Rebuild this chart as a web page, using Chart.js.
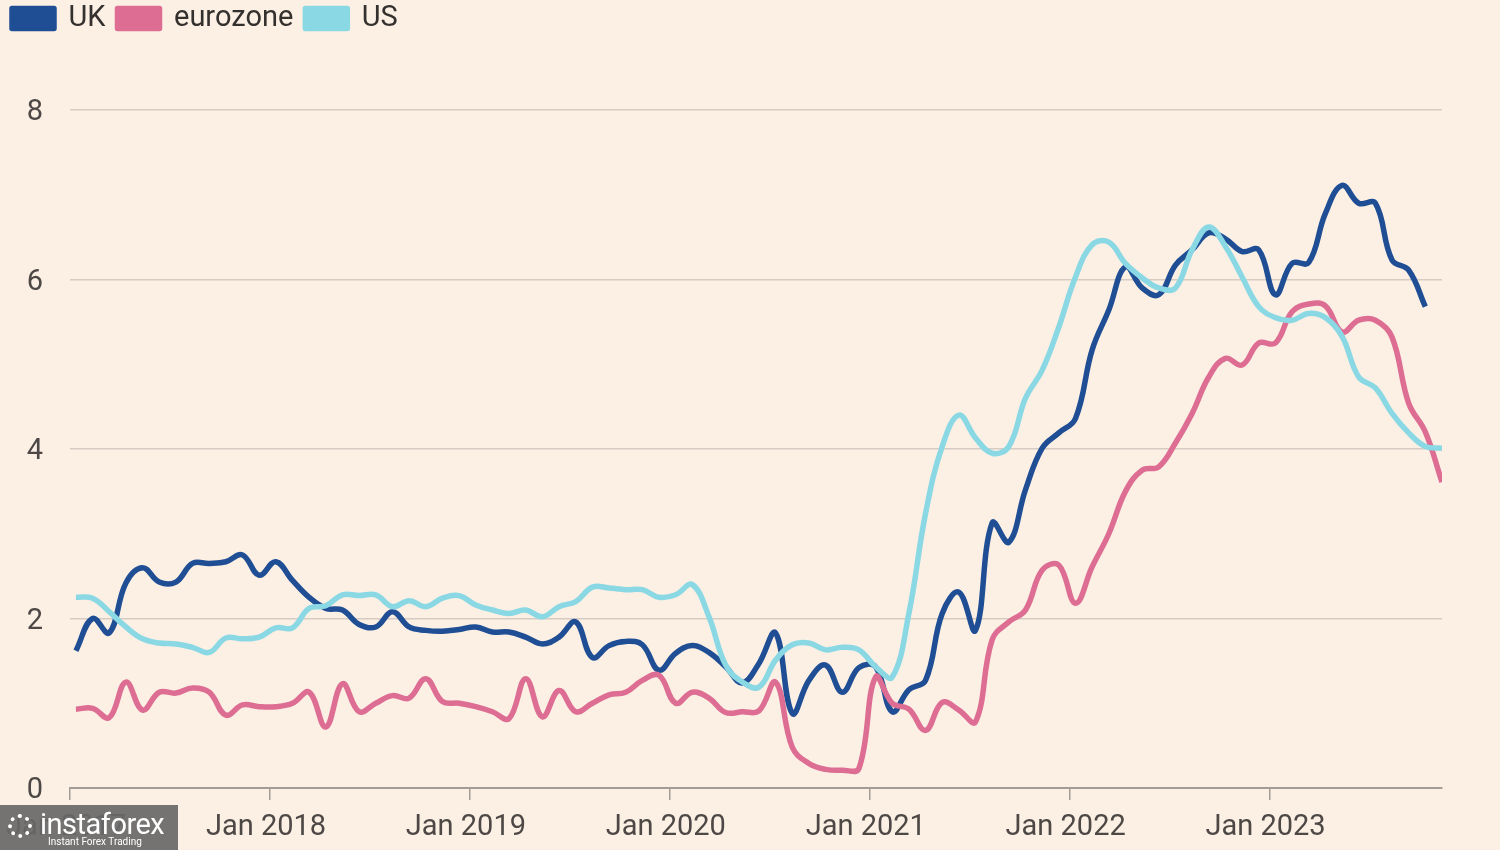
<!DOCTYPE html>
<html>
<head>
<meta charset="utf-8">
<script src="https://cdn.jsdelivr.net/npm/chart.js@4.4.0/dist/chart.umd.min.js"></script>
<style>
  html, body { margin: 0; padding: 0; background: #fcf0e5; }
  #wrap { position: relative; width: 1500px; height: 850px; }
  #c { display: block; }
  #wm { position: absolute; left: 0; top: 805px; width: 178px; height: 45px; background: rgba(104,104,104,0.92);
        color: #fff; font-family: Roboto, sans-serif; }
  #wm .big { position: absolute; left: 40px; top: 2px; font-size: 29px; letter-spacing: -0.5px; }
  #wm .small { position: absolute; left: 48px; top: 31px; font-size: 10px; }
  #wm .ico { position: absolute; left: 8px; top: 9px; width: 24px; height: 24px; border-radius: 50%; border: 4px dotted #fff; box-sizing: border-box; }
</style>
</head>
<body>
<div id="wrap">
<canvas id="c" width="1500" height="850"></canvas>
<div id="wm"><div class="ico"></div><div class="big">instaforex</div><div class="small">Instant Forex Trading</div></div>
</div>
<script>
// Monthly values, Jan 2017 onward
const seriesNames = ['UK', 'eurozone', 'US'];
const ukValues = [1.62,2.0,1.83,2.42,2.6,2.43,2.43,2.65,2.65,2.67,
  2.75,2.51,2.67,2.45,2.25,2.12,2.1,1.93,1.9,2.08,
  1.9,1.86,1.85,1.87,1.9,1.84,1.84,1.78,1.70,1.78,
  1.96,1.54,1.68,1.73,1.69,1.39,1.59,1.68,1.6,1.43,
  1.24,1.47,1.83,0.88,1.27,1.45,1.13,1.42,1.43,0.9,
  1.16,1.27,2.06,2.31,1.86,3.13,2.9,3.52,4.01,4.19,
  4.36,5.17,5.64,6.15,5.9,5.82,6.17,6.35,6.55,6.48,
  6.33,6.35,5.82,6.19,6.2,6.78,7.11,6.9,6.9,6.23,
  6.11,5.68];
const euroValues = [0.93,0.94,0.83,1.25,0.92,1.13,1.12,1.18,1.13,0.86,
  0.98,0.96,0.96,1.0,1.13,0.72,1.23,0.9,1.0,1.09,
  1.06,1.29,1.02,1.0,0.96,0.9,0.82,1.29,0.84,1.15,
  0.9,1.0,1.1,1.13,1.27,1.33,1.0,1.13,1.06,0.89,
  0.9,0.91,1.25,0.48,0.29,0.22,0.21,0.23,1.31,1.0,
  0.93,0.68,1.01,0.92,0.78,1.75,1.96,2.1,2.57,2.63,
  2.18,2.61,3.0,3.5,3.75,3.79,4.07,4.42,4.85,5.07,
  4.99,5.25,5.25,5.62,5.71,5.69,5.38,5.52,5.52,5.32,
  4.54,4.2,3.61];
const usValues = [2.25,2.24,2.08,1.9,1.76,1.71,1.7,1.66,1.6,1.77,
  1.76,1.78,1.89,1.89,2.12,2.15,2.28,2.27,2.28,2.14,
  2.21,2.14,2.24,2.27,2.16,2.1,2.06,2.1,2.02,2.14,
  2.2,2.37,2.36,2.34,2.34,2.25,2.28,2.4,2.02,1.45,
  1.25,1.19,1.51,1.69,1.71,1.63,1.66,1.63,1.43,1.31,
  2.06,3.24,4.03,4.4,4.13,3.95,4.03,4.6,4.93,5.44,
  6.03,6.41,6.44,6.19,6.02,5.9,5.9,6.35,6.62,6.39,
  6.03,5.68,5.55,5.52,5.6,5.55,5.33,4.85,4.72,4.42,
  4.19,4.03,4.01];
const xTickLabels = ['Jan 2017','Jan 2018','Jan 2019','Jan 2020','Jan 2021','Jan 2022','Jan 2023'];
const yTicks = [0, 2, 4, 6, 8];

const colors = { UK: '#1f4e94', eurozone: '#dd6d92', US: '#89d8e4' };
const monthOffset = 0.35;
const toPoints = vals => vals.map((v, i) => ({ x: i + monthOffset, y: v }));

const legendHeightPlugin = {
  id: 'legendHeight',
  beforeInit(chart) {
    const origFit = chart.legend.fit;
    chart.legend.fit = function () {
      origFit.bind(chart.legend)();
      this.height = 118;
    };
  }
};

const mk = (name, vals, order) => ({
  label: name, data: toPoints(vals), borderColor: colors[name], backgroundColor: colors[name],
  borderWidth: 5.5, pointRadius: 0, tension: 0.4, fill: false, order: order,
  borderCapStyle: 'butt', borderJoinStyle: 'round'
});

const font = { family: 'Roboto, sans-serif', size: 29 };

new Chart(document.getElementById('c'), {
  type: 'line',
  data: {
    datasets: [mk('UK', ukValues, 2), mk('eurozone', euroValues, 1), mk('US', usValues, 0)]
  },
  plugins: [legendHeightPlugin],
  options: {
    responsive: false, animation: false, devicePixelRatio: 1,
    layout: { padding: { left: 0, right: 58, top: -8, bottom: 0 } },
    plugins: {
      tooltip: { enabled: false },
      legend: {
        display: true, position: 'top', align: 'start',
        labels: {
          boxWidth: 42, boxHeight: 20, padding: 12, color: '#33302e', font: font,
          sort: (a, b) => a.datasetIndex - b.datasetIndex
        }
      }
    },
    scales: {
      x: {
        type: 'linear', min: 0, max: 82.35,
        afterBuildTicks: s => { s.ticks = xTickLabels.map((l, i) => ({ value: i * 12 })); },
        afterFit: s => { s.height = 62; },
        ticks: {
          callback: (v) => xTickLabels[Math.round(v / 12)],
          color: '#4d4845', font: font, padding: 10, labelOffset: -4, maxRotation: 0, autoSkip: false
        },
        grid: { drawOnChartArea: false, drawTicks: true, tickLength: 12, color: '#a39d97', lineWidth: 1.5 },
        border: { display: true, color: '#a39d97', width: 2 }
      },
      y: {
        min: 0, max: 8,
        afterBuildTicks: s => { s.ticks = yTicks.map(v => ({ value: v })); },
        afterFit: s => { s.width = 70; },
        ticks: { color: '#4d4845', font: font, padding: 27, labelOffset: 3 },
        grid: { drawTicks: false, color: '#d6ccc3', lineWidth: 1.5 },
        border: { display: false }
      }
    }
  }
});
</script>
</body>
</html>
